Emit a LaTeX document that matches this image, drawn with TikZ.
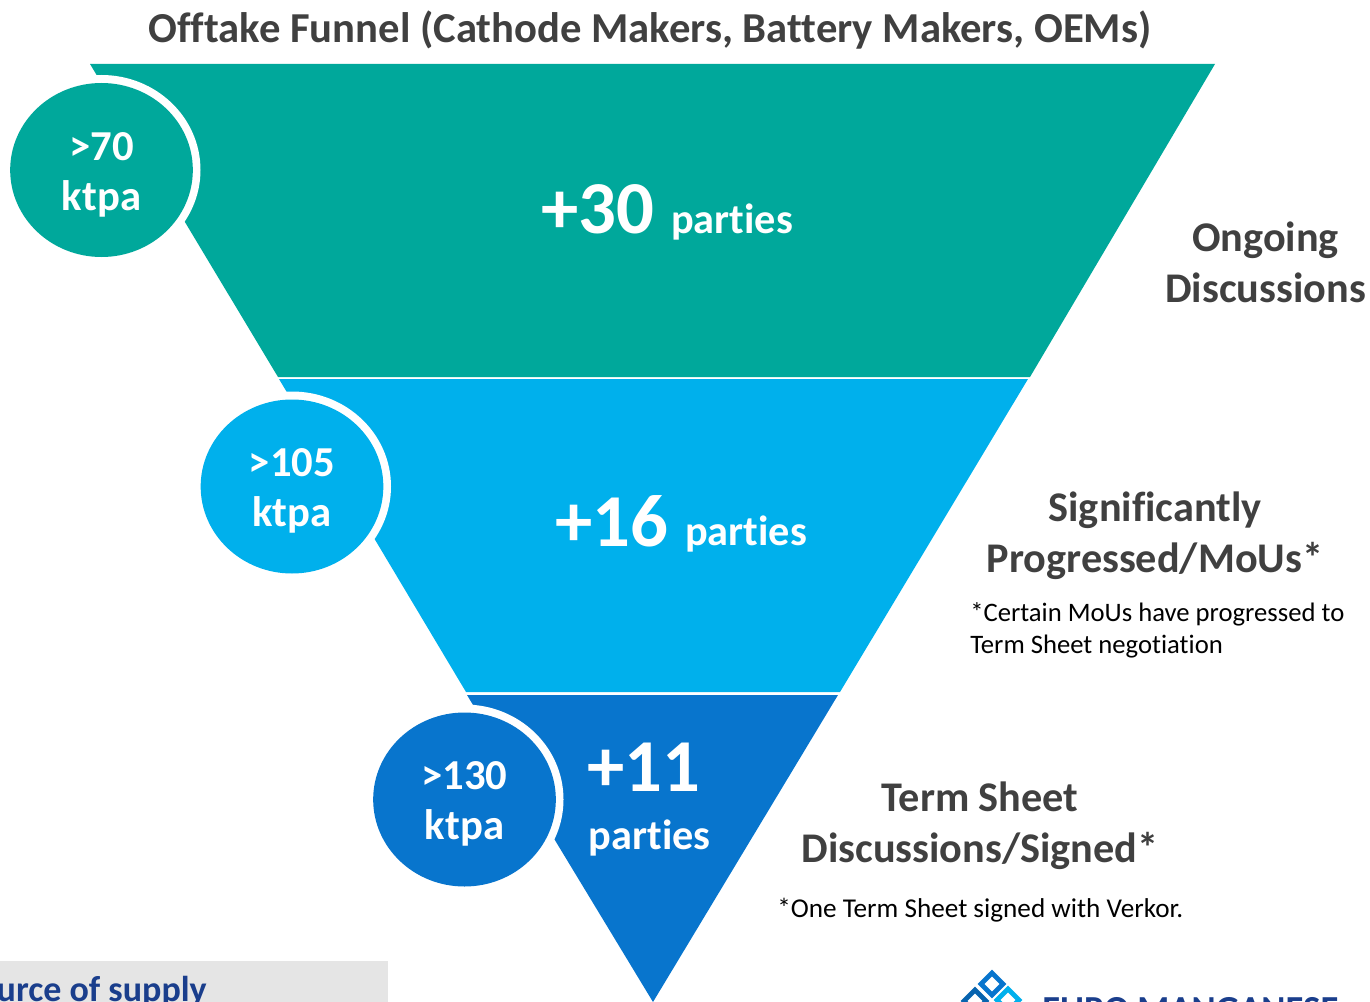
\documentclass[tikz,border=0pt]{standalone}
\usepackage{fontspec}
\setmainfont[Ligatures=CommonOff]{Carlito}
\usepackage{xcolor}
\usetikzlibrary{shapes.geometric}
\definecolor{tealfunnel}{RGB}{0,168,155}
\definecolor{cyanfunnel}{RGB}{0,176,236}
\definecolor{bluefunnel}{RGB}{8,117,205}
\definecolor{greytext}{RGB}{64,64,64}
\definecolor{navytext}{RGB}{26,62,140}
\definecolor{greyband}{RGB}{229,229,229}
\newcommand{\partysize}{\fontsize{56}{56}\selectfont\bfseries}

\begin{document}
\begin{tikzpicture}[x=0.75pt,y=-0.75pt]
		\tikzstyle{bubble}=[ellipse,inner sep=0pt,minimum width=137pt,minimum height=130.5pt]
		\tikzstyle{bubbletext}=[inner sep=0pt,text=white,align=center,font=\fontsize{32}{38}\selectfont\bfseries]
		\tikzstyle{ring}=[ellipse,fill=white,inner sep=0pt,minimum width=148.5pt,minimum height=142.5pt]
		\tikzstyle{heading}=[text=greytext,align=center,font=\fontsize{31.7}{38}\selectfont\bfseries]
		\tikzstyle{note}=[text=black,align=left,anchor=north west,inner sep=0pt,font=\fontsize{20}{24}\selectfont]
		\tikzstyle{count}=[text=white,anchor=base west,inner sep=0pt,font=\partysize]
		\tikzstyle{unit}=[text=white,anchor=base west,inner sep=0pt,font=\fontsize{31.7}{32}\selectfont\bfseries]

		\useasboundingbox (0,0) rectangle (1370,1002);
		\clip (0,0) rectangle (1370,1002);

		% Draw funnel bands
		\fill[tealfunnel] (90,64) -- (1215,64) -- (1030,377) -- (278,377) -- cycle;
		\fill[cyanfunnel] (279,379) -- (1028,379) -- (840,692) -- (466,692) -- cycle;
		\fill[bluefunnel] (467,695) -- (838,695) -- (653,1002) -- cycle;

		% Draw bubbles
		\node[ring] (ring1) at (101.5,170) {};
		\node[bubble,fill=tealfunnel] (bubble1) at (101.5,170) {};
		\node[bubbletext] (amount1) at (101.5,175) {>70\\ktpa};
		\node[ring] (ring2) at (292,486.5) {};
		\node[bubble,fill=cyanfunnel] (bubble2) at (292,486.5) {};
		\node[bubbletext] (amount2) at (292,491) {>105\\ktpa};
		\node[ring] (ring3) at (464.5,799.5) {};
		\node[bubble,fill=bluefunnel] (bubble3) at (464.5,799.5) {};
		\node[bubbletext] (amount3) at (464.5,804) {>130\\ktpa};

		% Draw counts
		\node[count] (count1) at (541,233.5) {+30};
		\node[unit] (unit1) at (671,233) {parties};
		\node[count] (count2) at (555,546) {+16};
		\node[unit] (unit2) at (685,545) {parties};
		\node[count] (count3) at (587,791) {+11};
		\node[unit] (unit3) at (588.5,849) {parties};

		% Draw headings and notes
		\node[heading,font=\fontsize{32}{38}\selectfont\bfseries] (title) at (650,30) {Offtake Funnel (Cathode Makers, Battery Makers, OEMs)};
		\node[heading] (ongoing) at (1265.5,262) {Ongoing\\Discussions};
		\node[heading] (progressed) at (1155,535.5) {Significantly\\Progressed/MoUs*};
		\node[note] (mounote) at (970,602) {*Certain MoUs have progressed to\\Term Sheet negotiation};
		\node[heading] (termsheet) at (980,825.5) {Term Sheet\\Discussions/Signed*};
		\node[note,font=\fontsize{20.4}{24}\selectfont] (tsnote) at (777,898) {*One Term Sheet signed with Verkor.};

		% Draw bottom band and logo
		\fill[greyband] (0,961) rectangle (388,1002);
		\node[anchor=base east,inner sep=0pt,text=navytext,font=\fontsize{27}{27}\selectfont\bfseries] (supply) at (207,1001) {Source of supply};
		\node[anchor=base west,inner sep=0pt,text=navytext,font=\fontsize{27.5}{27}\selectfont\bfseries] (company) at (1042,1021) {EURO MANGANESE};
		\draw[line width=3.5pt,draw=bluefunnel] (992,973) -- (1003,984) -- (992,995) -- (981,984) -- cycle;
		\draw[line width=3.5pt,draw=bluefunnel!85!black] (975,990) -- (986,1001) -- (975,1012) -- (964,1001) -- cycle;
		\draw[line width=3.5pt,draw=cyanfunnel] (1008,989) -- (1019,1000) -- (1008,1011) -- (997,1000) -- cycle;

		\end{tikzpicture}
\end{document}
